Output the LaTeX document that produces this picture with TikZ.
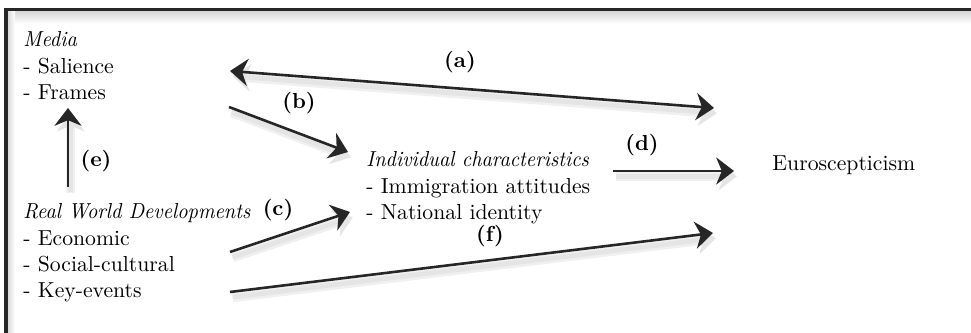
\documentclass[tikz,border=0pt]{standalone}
\usepackage{graphicx}
\usetikzlibrary{arrows.meta}
\newcommand{\itnarrow}[1]{\scalebox{0.935}[1]{\textit{#1}}}
\begin{document}
\begin{tikzpicture}[x=0.4608pt,y=-0.4608pt,
  lbl/.style={font=\bfseries, inner sep=0pt},
  blk/.style={anchor=base west, inner sep=0pt},
  conn/.style={line width=1.2pt, draw=black!85,
     preaction={draw=black!6, line width=4.2pt, transform canvas={shift={(1.3pt,-2.6pt)}}},
     preaction={draw=black!10, line width=2.2pt, transform canvas={shift={(1.2pt,-2.4pt)}}}},
  tip/.style={-{Stealth[length=8.2pt,width=12.5pt,inset=2.6pt]}},
  dtip/.style={{Stealth[length=8.2pt,width=12.5pt,inset=2.6pt]}-{Stealth[length=8.2pt,width=12.5pt,inset=2.6pt]}},
]
\useasboundingbox (0,0) rectangle (971,333);
% frame with soft inner shadow
\shade[top color=black!16, bottom color=white] (7,11) rectangle (971,24);
\shade[left color=black!16, right color=white] (7,11) rectangle (15,333);
\draw[line width=1.4pt, black!85] (971,9.5) -- (6,9.5) -- (6,333);

% text blocks
\node[blk] (media) at (23,47) {\begin{tabular}[t]{@{}l@{}}\itnarrow{Media}\\- Salience\\- Frames\end{tabular}};
\node[blk] (rwd) at (23,219) {\begin{tabular}[t]{@{}l@{}}\itnarrow{Real World Developments}\\- Economic\\- Social-cultural\\- Key-events\end{tabular}};
\node[blk] (ind) at (366,167) {\begin{tabular}[t]{@{}l@{}}\itnarrow{Individual characteristics}\\- Immigration attitudes\\- National identity\end{tabular}};
\node[blk] (euro) at (772,170.5) {Euroscepticism};

% connector end points
\coordinate (mediaR) at (230,71);
\coordinate (euroA) at (714,108);
\coordinate (mediaB) at (229,107);
\coordinate (indB) at (348,152);
\coordinate (rwdC) at (230,252);
\coordinate (indC) at (350,212);
\coordinate (indD) at (613,171);
\coordinate (euroD) at (734,171);
\coordinate (rwdE) at (68,187);
\coordinate (mediaE) at (68,108);
\coordinate (rwdF) at (230,292);
\coordinate (euroF) at (713,233);

% connectors
\draw[conn,dtip] (mediaR) -- (euroA);
\draw[conn,tip] (mediaB) -- (indB);
\draw[conn,tip] (rwdC) -- (indC);
\draw[conn,tip] (indD) -- (euroD);
\draw[conn,tip] (rwdE) -- (mediaE);
\draw[conn,tip] (rwdF) -- (euroF);

% labels
\node[lbl] (la) at (460,62) {(a)};
\node[lbl] (lb) at (299,103) {(b)};
\node[lbl] (lc) at (278,210) {(c)};
\node[lbl] (ld) at (642,145) {(d)};
\node[lbl] (le) at (96,161) {(e)};
\node[lbl] (lf) at (490,236) {(f)};
\end{tikzpicture}
\end{document}
